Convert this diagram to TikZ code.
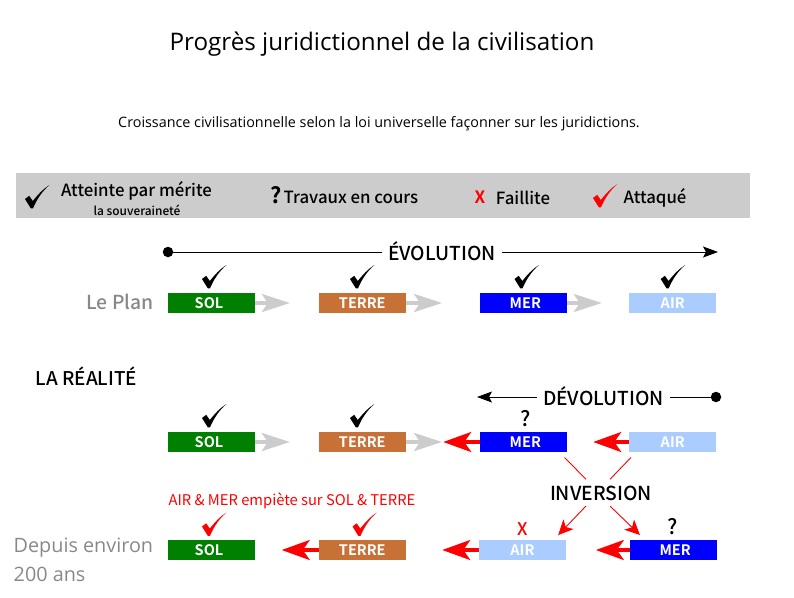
\documentclass[tikz,border=0pt]{standalone}
\usepackage{fontspec}
\setmainfont{Open Sans}
\newfontfamily\srcr{Noto Sans CJK SC}
\newfontfamily\src{Noto Sans CJK SC Medium}
\newfontfamily\srcb{Noto Sans CJK SC Bold}
\usetikzlibrary{arrows.meta,calc}
\definecolor{solc}{HTML}{008000}
\definecolor{terc}{HTML}{C87137}
\definecolor{merc}{HTML}{0000FF}
\definecolor{airc}{HTML}{AACCFF}
\definecolor{barc}{HTML}{CCCCCC}
\definecolor{grayt}{HTML}{888888}
\tikzset{
  terrain/.style={minimum width=86.5pt,minimum height=20.5pt,inner sep=0pt,text=white,font=\srcb\fontsize{14.5}{15}\selectfont},
  sol/.style={terrain,fill=solc},
  terre/.style={terrain,fill=terc},
  mer/.style={terrain,fill=merc},
  air/.style={terrain,fill=airc},
  grayarrow/.style={barc,line width=3.5pt,-{Stealth[length=28pt,width=18pt,inset=6pt]}},
  redarrow/.style={red,line width=3.5pt,-{Stealth[length=28pt,width=20pt,inset=7pt]}},
  axis/.style={black,line width=0.9pt},
  redline/.style={red,line width=0.9pt},
  redtip/.style={redline,-{Stealth[length=15pt,width=14pt,inset=4pt]}},
  dot/.style={circle,fill=black,inner sep=0pt,minimum size=10.5pt},
  lab/.style={inner sep=0pt,font=\src\fontsize{16.8}{17}\selectfont},
  big/.style={inner xsep=6pt,inner ysep=0pt,font=\src\fontsize{19.2}{19}\selectfont},
  pics/chkmark/.style={code={\fill[#1] (0,14) -- (4.2,10.8) -- (7.8,16) .. controls (13,9.5) and (18,4) .. (24.4,0) .. controls (17,6.5) and (12,14) .. (8,23.3) -- (5.8,23.3) -- cycle;}}
}
\begin{document}
\begin{tikzpicture}[x=1pt,y=-1pt]
\useasboundingbox (0,0) rectangle (794,597);
\node[inner sep=0pt,font=\fontsize{24.2}{24}\selectfont] (title) at (382,44) {Progrès juridictionnel de la civilisation};
\node[inner sep=0pt,font=\fontsize{14.35}{14}\selectfont] (subtitle) at (379,124) {Croissance civilisationnelle selon la loi universelle façonner sur les juridictions.};
% legend
\fill[barc] (16,172.5) rectangle (750,217.7);
\pic at (25,185) {chkmark=black};
\node[lab] (l1) at (136.5,190.5) {Atteinte par mérite};
\node[inner sep=0pt,font=\src\fontsize{11.9}{12}\selectfont] (l1b) at (137,210) {la souveraineté};
\node[inner sep=0pt,font=\srcb\fontsize{22}{22}\selectfont] (lq) at (276,195) {?};
\node[lab] (l2) at (351,197.5) {Travaux en cours};
\node[inner sep=0pt,text=red,font=\srcb\fontsize{17}{17}\selectfont] (lx) at (480,197) {X};
\node[lab] (l3) at (523,197.5) {Faillite};
\pic at (593,184) {chkmark=red};
\node[lab] (l4) at (655,197.5) {Attaqué};
% evolution
\node[dot] (evoStart) at (168,252) {};
\node[big] (evo) at (442,251) {ÉVOLUTION};
\coordinate (evoEnd) at (718,252);
\draw[axis] (evoStart) -- (evoStart -| evo.west);
\draw[axis,-{Stealth[length=15pt,width=11pt,inset=3pt]}] (evoEnd -| evo.east) -- (evoEnd);
\node[inner sep=0pt,text=grayt,font=\src\fontsize{19.3}{19}\selectfont] (plan) at (120,302) {Le Plan};
% row 1
\node[sol] (sol1) at (211.3,303) {SOL\hspace{4.6pt}\mbox{}};
\node[terre] (terre1) at (362.3,303) {TERRE};
\node[mer] (mer1) at (523.5,303) {\hspace{3.6pt}MER};
\node[air] (air1) at (672.7,303) {AIR};
\draw[grayarrow,shorten >=29pt] (sol1) -- (terre1);
\draw[grayarrow,shorten >=38pt] (terre1) -- (mer1);
\draw[grayarrow,shorten >=27.5pt] (mer1) -- (air1);
\pic at (202,265) {chkmark=black};
\pic at (350,265) {chkmark=black};
\pic at (514.5,265) {chkmark=black};
\pic at (660.7,265) {chkmark=black};
% row 2
\node[inner sep=0pt,font=\src\fontsize{18.9}{19}\selectfont] (real) at (86.5,376.5) {LA RÉALITÉ};
\node[big] (devo) at (603.5,396) {DÉVOLUTION};
\node[dot] (devoStart) at (716,397) {};
\coordinate (devoEnd) at (477,397);
\draw[axis] (devoStart) -- (devoStart -| devo.east);
\draw[axis,-{Stealth[length=15pt,width=11pt,inset=3pt]}] (devoEnd -| devo.west) -- (devoEnd);
\node[sol] (sol2) at (211.3,442) {SOL\hspace{4.6pt}\mbox{}};
\node[terre] (terre2) at (362.3,442) {TERRE};
\node[mer] (mer2) at (523.5,442) {\hspace{3.6pt}MER};
\node[air] (air2) at (672.7,442) {AIR};
\draw[grayarrow,shorten >=29pt] (sol2) -- (terre2);
\draw[grayarrow,shorten >=38pt] (terre2) -- (mer2);
\draw[redarrow,shorten >=37.5pt] (mer2) -- (terre2);
\draw[redarrow,shorten >=26.3pt] (air2) -- (mer2);
\pic at (202,404) {chkmark=black};
\pic at (350,404) {chkmark=black};
\node[inner sep=0pt,font=\src\fontsize{21}{21}\selectfont] (q2) at (526,419) {?};
% inversion
\node[inner sep=0pt,font=\src\fontsize{19.3}{19}\selectfont] (inv) at (601,493) {INVERSION};
% row 3
\node[inner sep=0pt,text=red,font=\srcr\fontsize{14.75}{15}\selectfont] (rtext) at (292,500.5) {AIR \& MER empiète sur SOL \& TERRE};
\node[sol] (sol3) at (211.3,550) {SOL\hspace{4.6pt}\mbox{}};
\node[terre] (terre3) at (362.3,550) {TERRE};
\node[air] (air3) at (522.4,550) {AIR};
\node[mer] (mer3) at (673.7,550) {\hspace{3pt}MER};
\draw[redarrow,shorten >=27pt] (terre3) -- (sol3);
\draw[redarrow,shorten >=36.5pt] (air3) -- (terre3);
\draw[redarrow,shorten >=30pt] (mer3) -- (air3);
\pic at (202,512.5) {chkmark=red};
\pic at (352.5,512.5) {chkmark=red};
\node[inner sep=0pt,text=red,font=\src\fontsize{17.5}{18}\selectfont] (x3) at (522.5,529.5) {X};
\node[inner sep=0pt,font=\src\fontsize{21}{21}\selectfont] (q3) at (673,527) {?};
\draw[redline] ($(mer2.south east)+(-2.4,5)$) -- ($(inv)+(-15,-13.7)$);
\draw[redline] ($(air2.south west)+(1.7,5)$) -- ($(inv)+(9,-13.7)$);
\draw[redtip] ($(inv)+(-15,13)$) -- ($(air3.north east)+(-7.7,-4.5)$);
\draw[redtip] ($(inv)+(9,13)$) -- ($(mer3.north west)+(9.7,-4.5)$);
\node[inner sep=0pt,anchor=west,text=grayt,font=\fontsize{19.8}{19}\selectfont] (dep1) at (13.5,547.5) {Depuis environ};
\node[inner sep=0pt,anchor=west,text=grayt,font=\fontsize{19.8}{19}\selectfont] (dep2) at (13.5,574) {200 ans};
\end{tikzpicture}
\end{document}
